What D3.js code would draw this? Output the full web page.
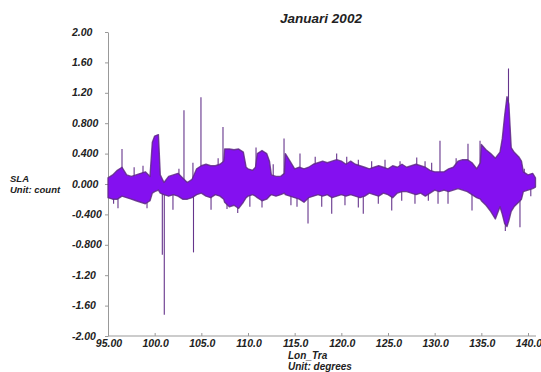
<!DOCTYPE html>
<html><head><meta charset="utf-8">
<script src="https://cdn.jsdelivr.net/npm/d3@7"></script>
<style>
body{margin:0;background:#fff;}
text{font-family:"Liberation Sans",Arial,sans-serif;font-weight:bold;font-style:italic;fill:#222;}
</style></head>
<body><svg id="c" width="541" height="372"></svg>
<script>
const title = "Januari 2002";
const yLabel = ["SLA", "Unit: count"];
const xLabel = ["Lon_Tra", "Unit: degrees"];
const yTicks = [2.0, 1.6, 1.2, 0.8, 0.4, 0.0, -0.4, -0.8, -1.2, -1.6, -2.0];
const yTickLabels = ["2.00","1.60","1.20","0.800","0.400","0.000","-0.400","-0.800","-1.20","-1.60","-2.00"];
const xTicks = [95, 100, 105, 110, 115, 120, 125, 130, 135, 140];
const xTickLabels = ["95.00","100.0","105.0","110.0","115.0","120.0","125.0","130.0","135.0","140.0"];

// SLA envelope (upper / lower values) along longitude
const lon = [95.0,95.5,96.0,96.5,97.0,97.5,98.0,98.5,99.0,99.5,99.75,100.0,100.4,100.6,101.0,101.5,102.0,102.5,103.0,103.5,104.0,104.5,105.0,105.5,106.0,106.5,107.0,107.4,107.5,108.0,108.5,109.0,109.5,109.8,110.0,110.5,110.8,111.0,111.5,112.0,112.3,112.5,113.0,113.5,113.9,114.0,114.5,115.0,115.5,116.0,116.5,117.0,117.5,118.0,118.5,119.0,119.5,120.0,120.5,121.0,121.5,122.0,122.5,123.0,123.5,124.0,124.5,125.0,125.5,126.0,126.5,127.0,127.5,128.0,128.5,129.0,129.5,130.0,130.5,131.0,131.5,132.0,132.5,133.0,133.5,134.0,134.5,134.9,135.0,135.5,136.0,136.5,137.0,137.25,137.5,137.75,137.95,138.2,138.5,139.0,139.3,139.5,140.0,140.5,140.8];
const upper = [0.08,0.12,0.18,0.22,0.12,0.10,0.12,0.14,0.16,0.10,0.55,0.63,0.65,0.12,0.02,0.10,0.12,0.14,0.08,0.02,0.06,0.20,0.24,0.26,0.24,0.24,0.26,0.30,0.46,0.46,0.45,0.46,0.42,0.22,0.20,0.18,0.22,0.40,0.44,0.40,0.30,0.12,0.10,0.10,0.14,0.40,0.30,0.20,0.22,0.20,0.22,0.26,0.28,0.30,0.28,0.30,0.32,0.30,0.26,0.30,0.26,0.24,0.22,0.20,0.22,0.24,0.22,0.20,0.24,0.22,0.26,0.22,0.24,0.26,0.24,0.22,0.18,0.16,0.16,0.16,0.20,0.22,0.30,0.32,0.32,0.28,0.20,0.28,0.52,0.45,0.40,0.34,0.42,0.60,0.90,1.15,1.05,0.48,0.42,0.36,0.30,0.16,0.12,0.14,0.08];
const lower = [-0.18,-0.20,-0.20,-0.16,-0.18,-0.20,-0.22,-0.24,-0.26,-0.22,-0.12,-0.10,-0.08,-0.12,-0.14,-0.16,-0.14,-0.16,-0.20,-0.20,-0.18,-0.14,-0.12,-0.16,-0.18,-0.14,-0.16,-0.20,-0.24,-0.30,-0.28,-0.32,-0.24,-0.18,-0.16,-0.14,-0.16,-0.18,-0.22,-0.20,-0.16,-0.14,-0.16,-0.14,-0.12,-0.14,-0.16,-0.18,-0.20,-0.24,-0.18,-0.16,-0.14,-0.16,-0.14,-0.18,-0.16,-0.14,-0.16,-0.14,-0.16,-0.18,-0.16,-0.12,-0.14,-0.16,-0.12,-0.14,-0.18,-0.12,-0.10,-0.10,-0.12,-0.14,-0.12,-0.16,-0.12,-0.08,-0.10,-0.08,-0.10,-0.08,-0.06,-0.08,-0.10,-0.14,-0.18,-0.20,-0.22,-0.28,-0.36,-0.46,-0.30,-0.40,-0.52,-0.56,-0.48,-0.36,-0.30,-0.24,-0.20,-0.10,-0.08,-0.06,-0.04];

// isolated spikes
const spikeLon = [95.6,96.07,96.5,97.8,98.75,99.18,100.82,101.03,101.96,102.6,103.14,104.1,104.16,104.96,106.04,106.8,107.32,107.75,108.9,110.2,110.86,111.5,112.7,113.86,114.6,115.25,115.57,116.43,117.2,117.9,118.97,119.5,120.39,120.58,121.82,121.82,122.35,123.25,123.96,124.68,125.4,126.29,126.47,127.89,128.08,128.97,129.32,129.68,130.36,130.57,131.43,132.3,133.57,134.0,134.86,137.57,137.91,139.14,139.6,140.3];
const spikeVal = [-0.26,-0.32,0.46,0.22,0.24,-0.32,-0.93,-1.72,-0.34,0.20,0.97,0.28,-0.90,1.14,-0.34,0.34,0.75,-0.33,-0.38,-0.30,0.48,-0.31,0.26,0.60,-0.28,-0.30,0.40,-0.52,0.36,-0.30,-0.39,0.40,-0.28,0.36,0.32,-0.31,-0.39,0.30,-0.26,0.32,-0.35,0.30,-0.22,-0.26,0.35,0.30,-0.22,0.28,-0.26,0.57,-0.26,0.34,0.53,-0.35,0.57,-0.62,1.52,-0.57,0.20,-0.16];

const svg = d3.select("#c");
const x = d3.scaleLinear().domain([95, 140]).range([108, 528]);
const y = d3.scaleLinear().domain([-2, 2]).range([336, 32]);

// axes
const gx = svg.append("g").attr("transform", "translate(0,336)")
  .call(d3.axisBottom(x).tickValues(xTicks).tickSizeInner(-3).tickSizeOuter(0).tickFormat(""));
gx.select(".domain").attr("d", `M108,0H536`);
gx.selectAll("line").attr("stroke", "#999");
gx.select(".domain").attr("stroke", "#999");

const gy = svg.append("g").attr("transform", "translate(108,0)")
  .call(d3.axisLeft(y).tickValues(yTicks).tickSize(3).tickSizeOuter(0).tickFormat(""));
gy.selectAll("line").attr("stroke", "#999");
gy.select(".domain").attr("stroke", "#999");

svg.append("g").selectAll("text").data(yTicks).join("text")
  .attr("x", 72).attr("y", d => y(d)).attr("dy", "0.35em")
  .attr("font-size", 10.5).text((d, i) => yTickLabels[i]);

svg.append("g").selectAll("text").data(xTicks).join("text")
  .attr("x", d => x(d) + 1).attr("y", 347).attr("text-anchor", "middle")
  .attr("font-size", 10.5).text((d, i) => xTickLabels[i]);

// data: spikes first (start at zero), band drawn on top so spikes show only outside it
svg.append("g").selectAll("line").data(spikeLon).join("line")
  .attr("x1", d => x(d)).attr("x2", d => x(d))
  .attr("y1", y(0)).attr("y2", (d, i) => y(spikeVal[i]))
  .attr("stroke", "#66358c").attr("stroke-width", 1.1);

const pts = lon.map((l, i) => ({l, u: upper[i], d: lower[i]}));
const area = d3.area().x(p => x(p.l)).y0(p => y(p.d)).y1(p => y(p.u)).curve(d3.curveLinear);
svg.append("path").datum(pts).attr("d", area)
  .attr("fill", "#8410f0").attr("stroke", "#5f2a86").attr("stroke-width", 1.4)
  .attr("stroke-opacity", 0.85).attr("stroke-linejoin", "round");

// titles
svg.append("text").attr("x", 321).attr("y", 18).attr("dy", "0.35em").attr("text-anchor", "middle")
  .attr("font-size", 13.5).text(title);
svg.append("text").attr("x", 10).attr("y", 179).attr("dy", "0.35em").attr("font-size", 9.5).text(yLabel[0]);
svg.append("text").attr("x", 10).attr("y", 190).attr("dy", "0.35em").attr("font-size", 9.5).text(yLabel[1]);
svg.append("text").attr("x", 288).attr("y", 355).attr("dy", "0.35em").attr("font-size", 10).text(xLabel[0]);
svg.append("text").attr("x", 288).attr("y", 366).attr("dy", "0.35em").attr("font-size", 10).text(xLabel[1]);
</script></body></html>
